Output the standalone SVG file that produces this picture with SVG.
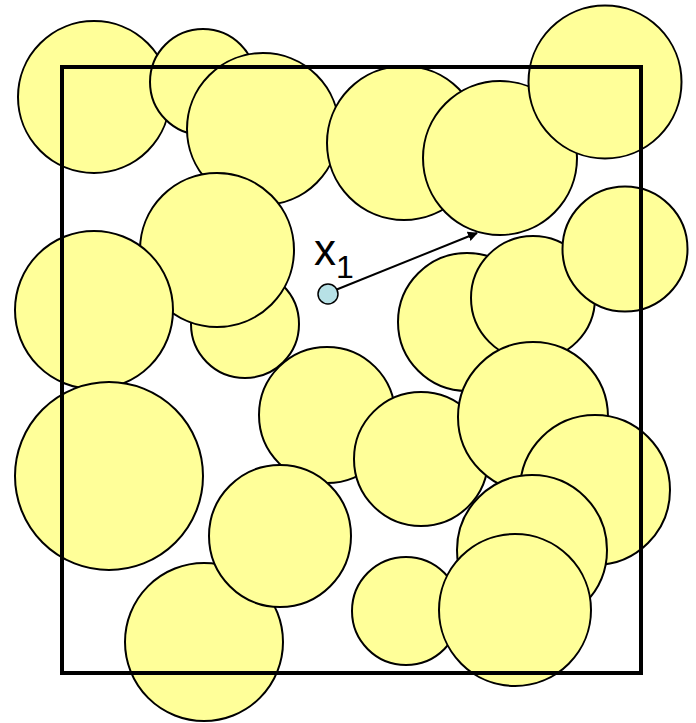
<svg xmlns="http://www.w3.org/2000/svg" width="696" height="723" viewBox="0 0 696 723">
<defs>
<style>
.c{fill:#FFFF99;stroke:#000;stroke-width:2}
.lbl{font-family:"Liberation Sans",Arial,sans-serif;fill:#000}
</style>
<marker id="ah" viewBox="0 0 10 10" refX="9" refY="5" markerWidth="5" markerHeight="5" orient="auto" markerUnits="strokeWidth">
<path d="M0,0 L10,5 L0,10 z" fill="#000"/>
</marker>
</defs>
<rect width="696" height="723" fill="#fff"/>
<g id="particles">
<circle id="p1" class="c" cx="94" cy="97" r="76"/>
<circle id="p2" class="c" cx="203" cy="82" r="53"/>
<circle id="p3" class="c" cx="263" cy="129" r="76"/>
<circle id="p4" class="c" cx="404" cy="143" r="77"/>
<circle id="p5" class="c" cx="500" cy="158" r="77"/>
<circle id="p6" class="c" cx="605" cy="82" r="76.5"/>
<circle id="p8" class="c" cx="245" cy="324" r="54"/>
<circle id="p7" class="c" cx="217" cy="250" r="77"/>
<circle id="p9" class="c" cx="94" cy="310" r="79"/>
<circle id="p10" class="c" cx="109" cy="476" r="94"/>
<circle id="p11" class="c" cx="327" cy="415" r="68"/>
<circle id="p16" class="c" cx="421" cy="459" r="67"/>
<circle id="p12" class="c" cx="467" cy="322" r="69"/>
<circle id="p13" class="c" cx="533" cy="298" r="62"/>
<circle id="p14" class="c" cx="625" cy="249" r="62.5"/>
<circle id="p15" class="c" cx="533" cy="417" r="75"/>
<circle id="p17" class="c" cx="595" cy="490" r="75"/>
<circle id="p18" class="c" cx="532" cy="550" r="75"/>
<circle id="p20" class="c" cx="406" cy="611" r="54"/>
<circle id="p19" class="c" cx="515" cy="610" r="76"/>
<circle id="p22" class="c" cx="204" cy="642" r="79"/>
<circle id="p21" class="c" cx="280" cy="536" r="71"/>
</g>
<g id="frame">
<rect x="62" y="67" width="579" height="606" fill="none" stroke="#000" stroke-width="4"/>
</g>
<g id="connectors">
<line x1="328" y1="293" x2="477" y2="233" stroke="#000" stroke-width="2" marker-end="url(#ah)"/>
</g>
<g id="x1">
<circle cx="328" cy="294" r="10" fill="#B7E1E6" stroke="#000" stroke-width="1.5"/>
<text class="lbl" x="314" y="265" font-size="44">x<tspan font-size="32" dy="13">1</tspan></text>
</g>
</svg>
